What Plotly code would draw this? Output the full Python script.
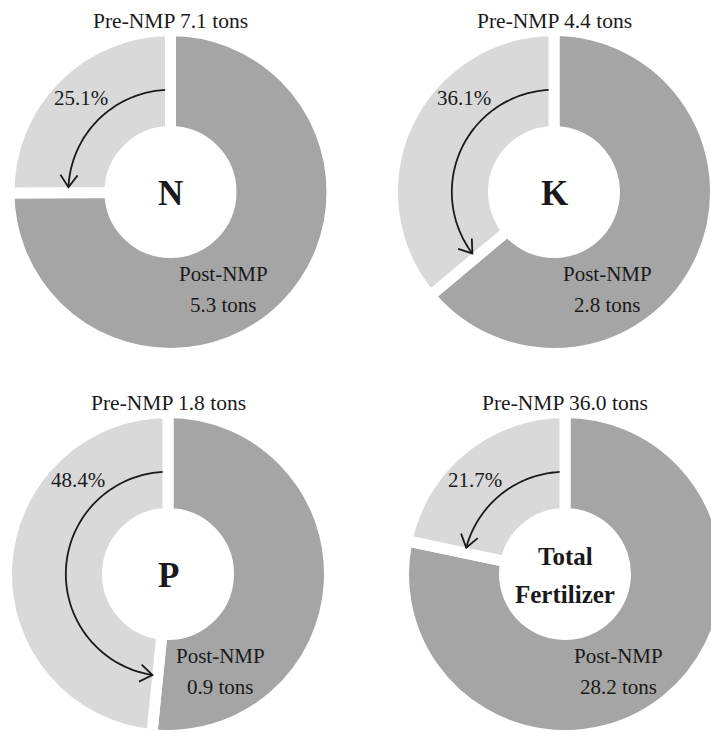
import math
import plotly.graph_objects as go

# ---------------- data ----------------
categories = ["N", "K", "P", "Total Fertilizer"]
pre_tons = [7.1, 4.4, 1.8, 36.0]
post_tons = [5.3, 2.8, 0.9, 28.2]
reduction_pct = [25.1, 36.1, 48.4, 21.7]

# ---------------- layout constants ----------------
# figure is a little larger than the 711x732 window: the right-hand donut is cut by the window edge
W, H = 730, 740
centers = [(170.5, 192), (554, 192), (168, 574), (565, 574)]  # pixel centres of each donut
R_VIS = 156          # visible outer radius (px)
HOLE_VIS = 66        # visible hole radius (px)
LW = 11              # white gap between slices
DARK = "#a5a5a5"
LIGHT = "#d9d9d9"
TXT = "#1a1a1a"
FONT = "Liberation Serif, Times New Roman, serif"


def px_to_paper(x, y):
    return x / W, 1 - y / H


fig = go.Figure()
annotations = []
shapes = []

for name, pre, post, pct, (cx, cy) in zip(categories, pre_tons, post_tons, reduction_pct, centers):
    r = R_VIS + LW / 2
    x0, x1 = max(0, cx - r), min(W, cx + r)
    y0, y1 = max(0, cy - r), min(H, cy + r)
    r_act = min(x1 - x0, y1 - y0) / 2
    pcx, pcy = (x0 + x1) / 2, (y0 + y1) / 2
    hole = (HOLE_VIS - LW / 2) / r_act

    fig.add_trace(go.Pie(
        values=[100 - pct, pct],
        labels=["Post-NMP", "Reduction"],
        sort=False,
        direction="clockwise",
        rotation=0,
        hole=hole,
        marker=dict(colors=[DARK, LIGHT], line=dict(color="white", width=LW)),
        textinfo="none",
        hoverinfo="label+percent",
        showlegend=False,
        domain=dict(x=[x0 / W, x1 / W], y=[1 - y1 / H, 1 - y0 / H]),
    ))

    # ---- text ----
    def ann(text, x, y, size, bold=False):
        px, py = px_to_paper(x, y)
        annotations.append(dict(
            text=f"<b>{text}</b>" if bold else text,
            x=px, y=py, xref="paper", yref="paper",
            xanchor="center", yanchor="middle", showarrow=False,
            font=dict(family=FONT, size=size, color=TXT),
        ))

    ann(f"Pre-NMP {pre:.1f} tons", cx, cy - 171, 21.5)
    ann(f"{pct:.1f}%", cx - 90, cy - 94, 21)
    ann("Post-NMP", cx + 53, cy + 82, 21)
    ann(f"{post:.1f} tons", cx + 53, cy + 113, 21)
    words = name.split(" ")
    if len(words) == 1:
        ann(words[0], pcx, pcy + 1, 35, bold=True)
    else:
        ann(words[0], cx, cy - 18, 25, bold=True)
        ann(words[1], cx, cy + 20, 25, bold=True)

    # ---- curved arrow (arc inside the reduction slice) ----
    ra = 0.655 * (r_act - LW / 2)
    th0 = math.radians(3)
    th1 = math.radians(pct * 3.6 - 3)
    n = 60
    pts = []
    for i in range(n + 1):
        th = th0 + (th1 - th0) * i / n
        pts.append(px_to_paper(pcx - ra * math.sin(th), pcy - ra * math.cos(th)))
    path = "M " + " L ".join(f"{x:.5f},{y:.5f}" for x, y in pts)
    shapes.append(dict(type="path", path=path, xref="paper", yref="paper",
                       line=dict(color=TXT, width=1.8), layer="above"))
    # arrow head
    tx_, ty_ = pcx - ra * math.sin(th1), pcy - ra * math.cos(th1)
    dx, dy = -math.cos(th1), math.sin(th1)   # travel direction (px, y down)
    L, a = 15, math.radians(35)
    head = []
    for s in (1, -1):
        c, sn = math.cos(s * a), math.sin(s * a)
        bx, by = -dx, -dy
        rx, ry = bx * c - by * sn, bx * sn + by * c
        head.append((tx_ + L * rx, ty_ + L * ry))
    hp = [px_to_paper(*head[0]), px_to_paper(tx_, ty_), px_to_paper(*head[1])]
    path_h = "M " + " L ".join(f"{x:.5f},{y:.5f}" for x, y in hp)
    shapes.append(dict(type="path", path=path_h, xref="paper", yref="paper",
                       line=dict(color=TXT, width=1.8), layer="above"))

fig.update_layout(
    width=W, height=H,
    margin=dict(l=0, r=0, t=0, b=0),
    paper_bgcolor="white", plot_bgcolor="white",
    annotations=annotations,
    shapes=shapes,
    showlegend=False,
)

fig.write_html(
    "out.html",
    config={"displayModeBar": False},
    post_script="document.body.style.margin='0';document.body.style.overflow='hidden';",
)
